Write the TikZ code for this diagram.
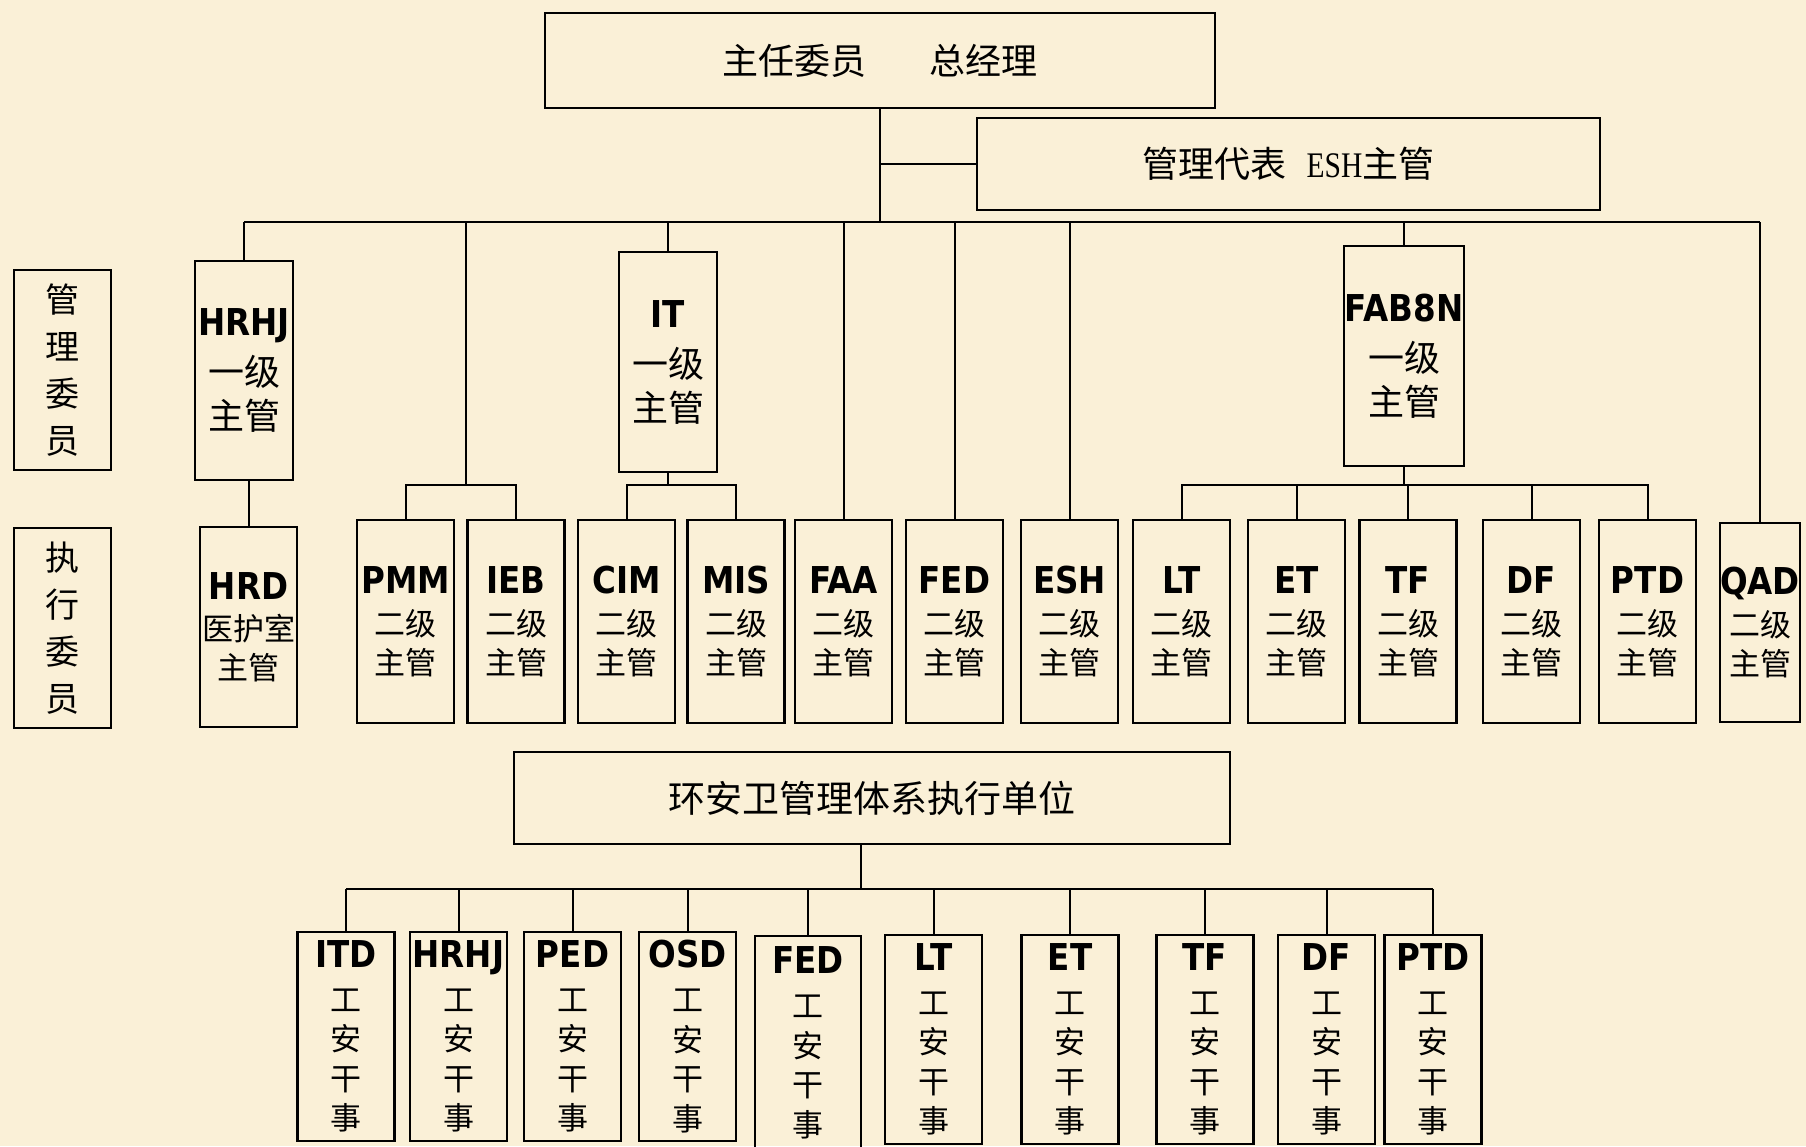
\documentclass[tikz,border=0pt]{standalone}
\usepackage{fontspec}
\setmainfont{Noto Sans CJK SC}
\newfontfamily\latfont[FakeStretch=0.88]{DejaVu Sans}
\newfontfamily\eshfont[FakeStretch=0.82]{Liberation Serif}
\newcommand\dept[1]{{\fontsize{37}{37}\selectfont\latfont\bfseries #1}}
\definecolor{parch}{HTML}{FAF0D7}

\begin{document}
\begin{tikzpicture}[x=1pt,y=-1pt,
  box/.style={draw,line width=2.2pt,inner sep=0pt,align=center},
  chief/.style={box,minimum width=98,minimum height=220,font=\fontsize{36}{44}\selectfont},
  lead/.style={box,minimum width=97,minimum height=203,font=\fontsize{31}{39}\selectfont},
  staff/.style={box,minimum width=97,minimum height=209,font=\fontsize{31}{39.5}\selectfont},
  side/.style={box,minimum width=97,minimum height=200,font=\fontsize{34}{47}\selectfont},
  link/.style={line width=2pt}]
  \useasboundingbox (0,0) rectangle (1806,1146);
  \fill[parch] (0,0) rectangle (1806,1146);

  \node[box,minimum width=670,minimum height=95,font=\fontsize{36}{36}\selectfont] (top) at (880,60.5) {主任委员\hspace{63pt}总经理};
  \node[box,minimum width=623,minimum height=92,font=\fontsize{36}{36}\selectfont] (rep) at (1288.5,164) {管理代表\hspace{20pt}{\eshfont ESH}主管};
  \node[side] (glwy) at (62.5,370) {管\\理\\委\\员};
  \node[side] (zxwy) at (62.5,628) {执\\行\\委\\员};

  \node[chief,minimum height=219] (hrhj) at (244,370.5) {\dept{HRHJ}\\[6pt]一级\\主管};
  \node[chief] (it) at (668,362) {\dept{IT}\\[6pt]一级\\主管};
  \node[chief,minimum width=120] (fab) at (1404,356) {\dept{FAB8N}\\[6pt]一级\\主管};

  \node[lead,minimum height=200] (hrd) at (248.5,627) {\dept{HRD}\\[2pt]医护室\\主管};
  \foreach \n/\x/\t in {pmm/405.5/PMM,ieb/516/IEB,cim/626.5/CIM,mis/736/MIS,faa/843.5/FAA,fed/954.5/FED,
      esh/1069.5/ESH,lt/1181.5/LT,et/1296.5/ET,tf/1408/TF,df/1531.5/DF,pt/1647.5/PTD}
    \node[lead] (\n) at (\x,621.5) {\dept{\t}\\[3pt]二级\\主管};
  \node[lead,minimum width=76,minimum height=199] (qad) at (1760,622.5) {\dept{QAD}\\[3pt]二级\\主管};

  \node[box,minimum width=716,minimum height=92,font=\fontsize{37}{37}\selectfont] (unit) at (872,798) {环安卫管理体系执行单位};
  \foreach \n/\x/\y/\t in {itd/346/1036.5/ITD,hrhj2/458.5/1036.5/HRHJ,ped/572.5/1036.5/PED,osd/687.5/1036.5/OSD,
      lt2/933.5/1039.5/LT,et2/1070/1039.5/ET,tf2/1205/1039.5/TF,df2/1326.5/1039.5/DF,pt2/1433/1039.5/PTD}
    \node[staff] (\n) at (\x,\y) {\dept{\t}\\[4.5pt]工\\安\\干\\事};
  \node[staff,minimum width=106,minimum height=214] (fed2) at (808,1043) {\dept{FED}\\[4.5pt]工\\安\\干\\事};

  \coordinate (bus) at (0,222);
  \coordinate (fork) at (0,485);
  \coordinate (pi) at (466,485);
  \coordinate (bus2) at (0,889);
  \coordinate (drop) at (861,889);

  \draw[link] (top) -- (top |- bus) (rep) -- (rep -| top) (hrhj |- bus) -- (qad |- bus);
  \foreach \n in {hrhj,it,faa,fed,esh,fab,qad}
    \draw[link] (\n |- bus) -- (\n);
  \draw[link] (pi |- bus) -- (pi) (pmm) -- (pmm |- pi) -- (ieb |- pi) -- (ieb);
  \draw[link] (it) -- (it |- fork) (cim) -- (cim |- fork) -- (mis |- fork) -- (mis);
  \draw[link] (fab) -- (fab |- fork) (lt) -- (lt |- fork) -- (pt |- fork) -- (pt);
  \foreach \n in {et,tf,df}
    \draw[link] (\n |- fork) -- (\n);
  \draw[link] (hrd) -- (hrd |- hrhj.south);
  \draw[link] (drop |- unit.south) -- (drop) (itd |- bus2) -- (pt2 |- bus2);
  \foreach \n in {itd,hrhj2,ped,osd,fed2,lt2,et2,tf2,df2,pt2}
    \draw[link] (\n |- bus2) -- (\n);
\end{tikzpicture}
\end{document}
